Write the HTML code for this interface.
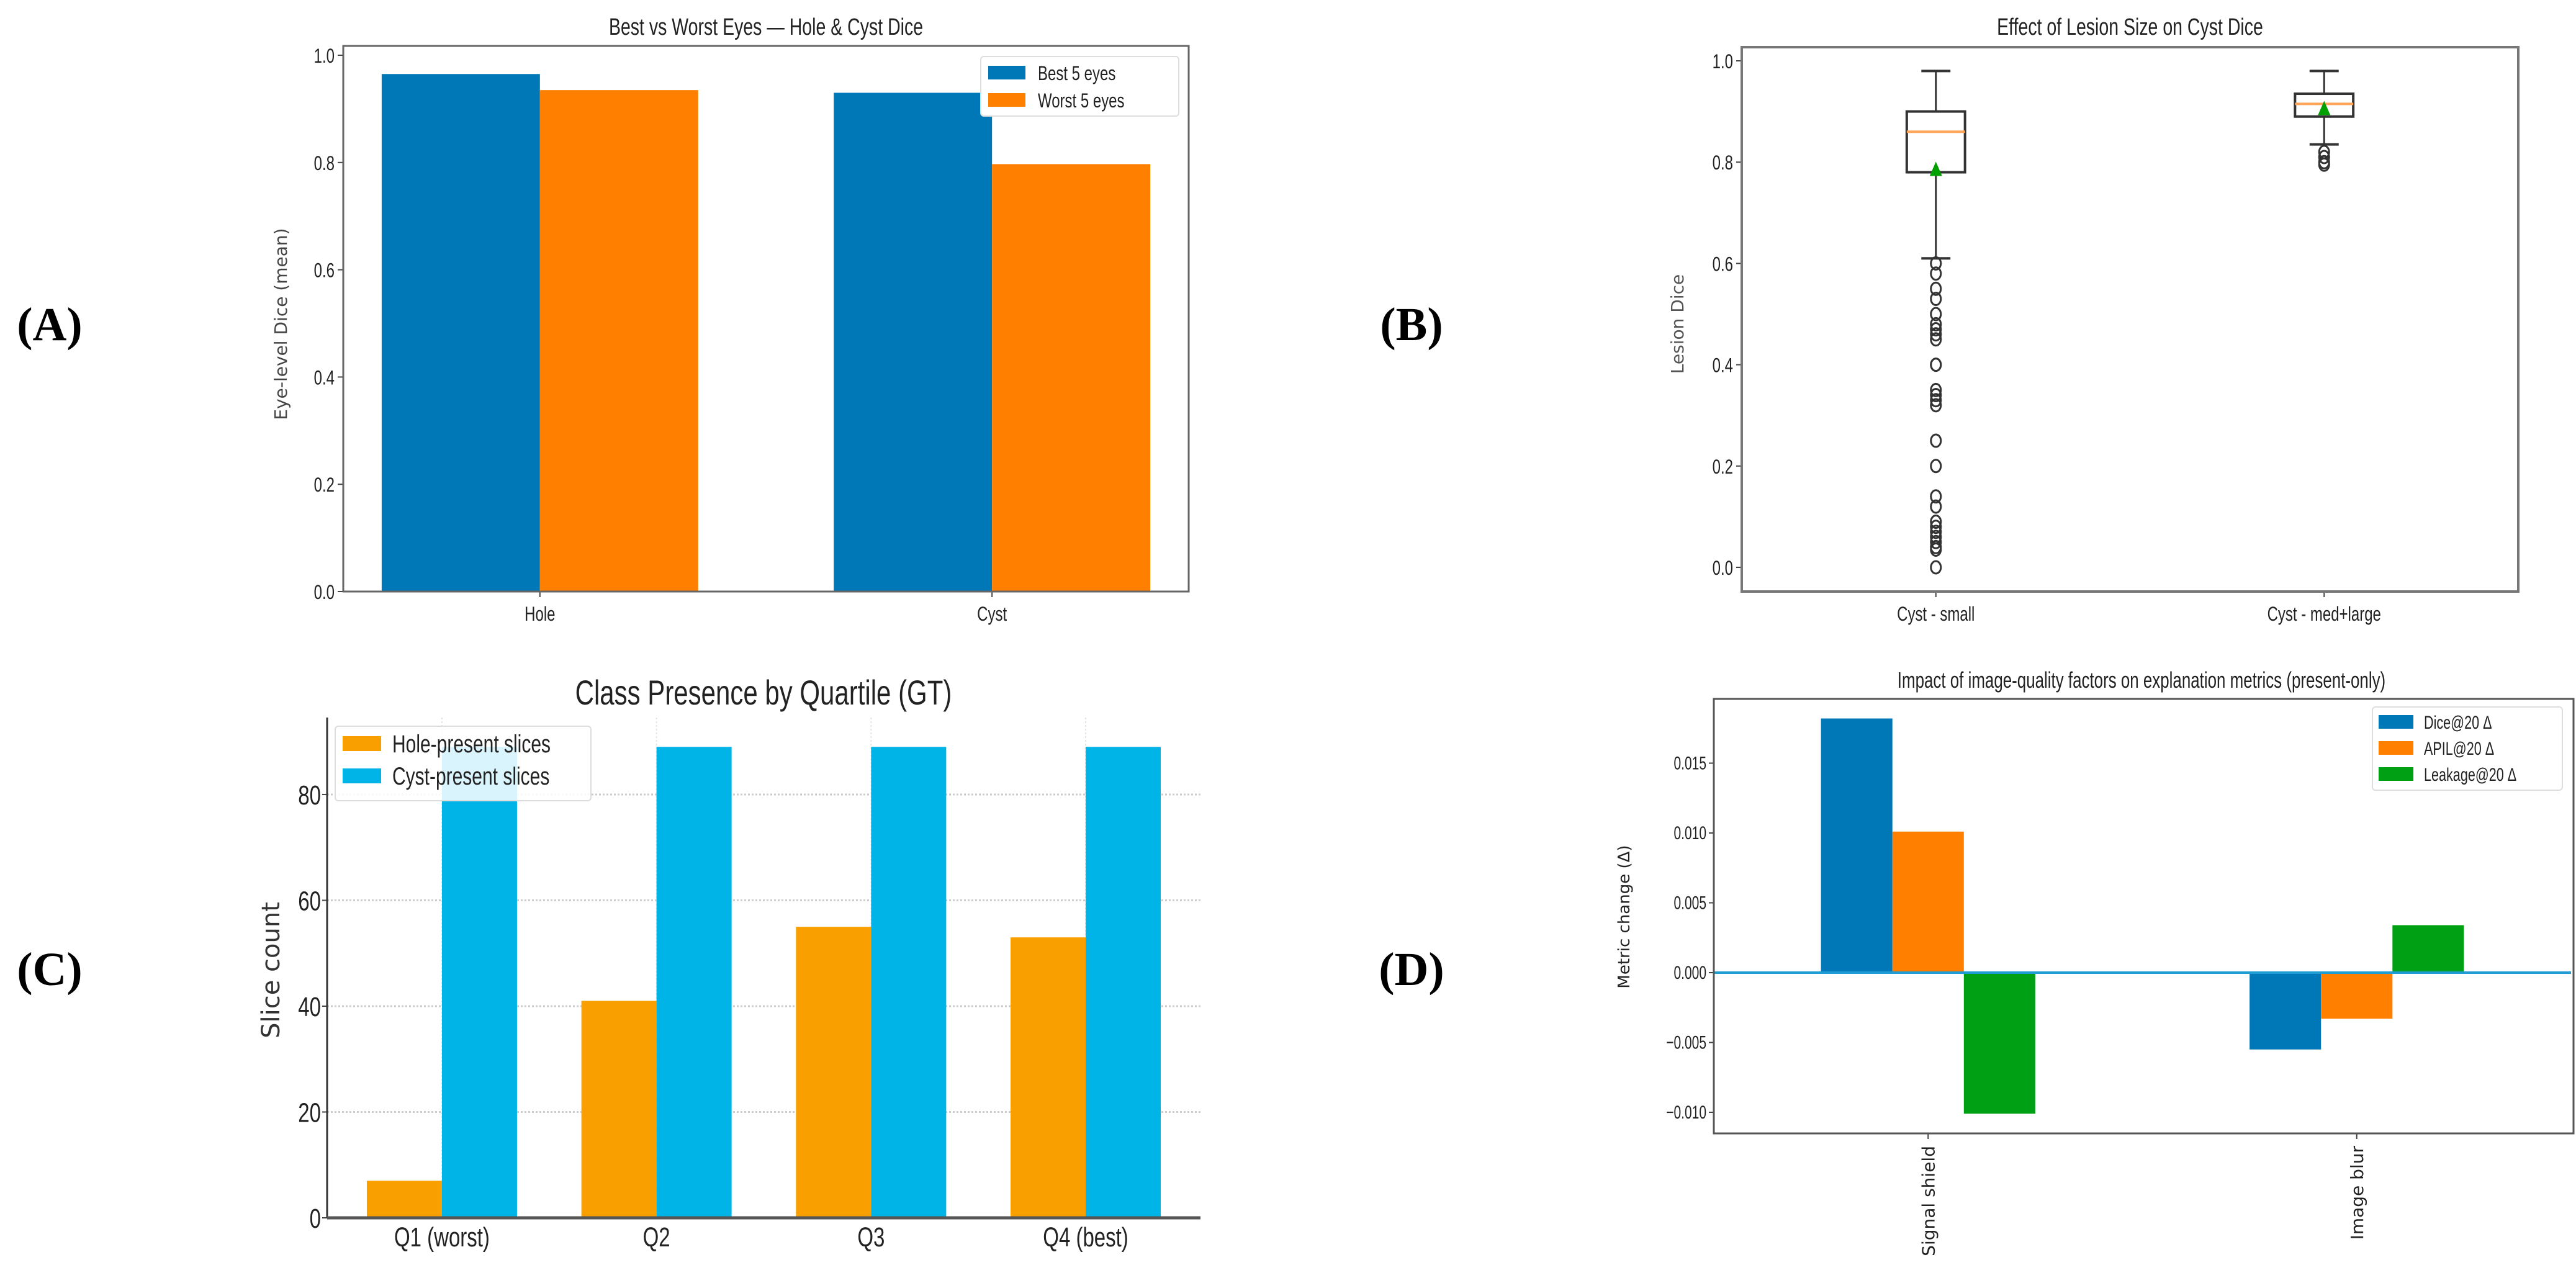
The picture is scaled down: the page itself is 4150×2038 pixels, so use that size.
<!DOCTYPE html>
<html><head><meta charset="utf-8">
<style>
html,body{margin:0;padding:0;background:#fff;}
svg{display:block;}
text{font-family:"Liberation Sans","DejaVu Sans",sans-serif;}
</style></head>
<body>
<svg id="fig" xmlns="http://www.w3.org/2000/svg" width="4150" height="2038" viewBox="0 0 4150 2038">
<rect width="4150" height="2038" fill="#fff"/>
<text x="80" y="548" font-size="76" font-family="Liberation Serif, serif" font-weight="bold" text-anchor="middle" style="font-family:'Liberation Serif',serif">(A)</text>
<text x="2274" y="548" font-size="76" font-weight="bold" text-anchor="middle" style="font-family:'Liberation Serif',serif">(B)</text>
<text x="80" y="1587" font-size="76" font-weight="bold" text-anchor="middle" style="font-family:'Liberation Serif',serif">(C)</text>
<text x="2274" y="1587" font-size="76" font-weight="bold" text-anchor="middle" style="font-family:'Liberation Serif',serif">(D)</text>
</svg>
<script>
// ---- Panel A data ----
const aCategories = ["Hole", "Cyst"];
const aBest = [0.965, 0.93];
const aWorst = [0.935, 0.797];
const aTicks = [0.0, 0.2, 0.4, 0.6, 0.8, 1.0];
// ---- Panel B data ----
const bCategories = ["Cyst - small", "Cyst - med+large"];
const bWhiskerHigh = [0.98, 0.98];
const bQ3 = [0.90, 0.935];
const bMedian = [0.86, 0.915];
const bQ1 = [0.78, 0.89];
const bWhiskerLow = [0.61, 0.835];
const bMean = [0.785, 0.905];
const bOutliersSmall = [0.60,0.58,0.55,0.53,0.50,0.48,0.47,0.46,0.45,0.40,0.40,0.35,0.34,0.33,0.32,0.25,0.20,0.14,0.12,0.09,0.08,0.07,0.06,0.05,0.04,0.035,0.0];
const bOutliersLarge = [0.82,0.81,0.80,0.795];
const bTicks = [0.0, 0.2, 0.4, 0.6, 0.8, 1.0];
// ---- Panel C data ----
const cCategories = ["Q1 (worst)", "Q2", "Q3", "Q4 (best)"];
const cHole = [7, 41, 55, 53];
const cCyst = [89, 89, 89, 89];
const cTicks = [0, 20, 40, 60, 80];
// ---- Panel D data ----
const dCategories = ["Signal shield", "Image blur"];
const dDice = [0.0182, -0.0055];
const dApil = [0.0101, -0.0033];
const dLeak = [-0.0101, 0.0034];
const dTicks = [-0.010, -0.005, 0.000, 0.005, 0.010, 0.015];
const dTickLabels = ["\u22120.010", "\u22120.005", "0.000", "0.005", "0.010", "0.015"];

const NS = "http://www.w3.org/2000/svg";
const svg = document.getElementById("fig");
function mk(tag, attrs, parent) {
  const e = document.createElementNS(NS, tag);
  for (const k in attrs) e.setAttribute(k, attrs[k]);
  (parent || svg).appendChild(e);
  return e;
}
function txt(x, y, s, size, anchor, opts) {
  opts = opts || {};
  const sx = opts.sx || 1;
  const rot = opts.rot || 0;
  const t = mk("text", {x: 0, y: 0, "font-size": size, "text-anchor": anchor || "middle",
    fill: opts.fill || "#222", transform: `translate(${x},${y}) rotate(${rot}) scale(${sx},1)`});
  if (opts.family) t.setAttribute("style", "font-family:" + opts.family);
  t.textContent = s;
  return t;
}
function lin(d0, d1, p0, p1) { return v => p0 + (v - d0) * (p1 - p0) / (d1 - d0); }

// ================= Panel A =================
(function(){
  const L = 553, R = 1915, T = 74, B = 953;
  const x = lin(-0.435, 1.435, L, R);
  const y = lin(0, 1.0, 953, 89);
  const w = 0.35;
  const g = mk("g", {});
  
  
  aCategories.forEach((c, i) => {
    const r1 = mk("rect", {x: x(i - w), y: y(aBest[i]), width: x(i) - x(i - w), height: y(0) - y(aBest[i]), fill: "#0077b6"}, g);
    
    
    const r2 = mk("rect", {x: x(i), y: y(aWorst[i]), width: x(i + w) - x(i), height: y(0) - y(aWorst[i]), fill: "#ff7f00"}, g);
    
    
    mk("line", {x1: x(i), x2: x(i), y1: B, y2: B + 9, stroke: "#444", "stroke-width": 2}, g);
    const t = txt(x(i), 1000, c, 32, "middle", {sx: 0.75});
    
    
  });
  aTicks.forEach(v => {
    mk("line", {x1: L - 9, x2: L, y1: y(v), y2: y(v), stroke: "#444", "stroke-width": 2}, g);
    const t = txt(L - 14, y(v) + 12, v.toFixed(1), 32, "end", {sx: 0.75});
    
    
  });
  mk("rect", {x: L, y: T, width: R - L, height: B - T, fill: "none", stroke: "#666", "stroke-width": 3}, g);
  const tt = txt((L + R) / 2, 56, "Best vs Worst Eyes \u2014 Hole & Cyst Dice", 38, "middle", {sx: 0.75});
  
  
  const yl = txt(462, 522, "Eye-level Dice (mean)", 28, "middle", {rot: -90, family: "'DejaVu Sans',sans-serif", fill: "#444"});
  
  
  const lg = mk("g", {}, g);
  
  
  mk("rect", {x: 1580, y: 91, width: 319, height: 96, fill: "#fff", stroke: "#ddd", "stroke-width": 2, rx: 5}, lg);
  mk("rect", {x: 1592, y: 106, width: 60, height: 22, fill: "#0077b6"}, lg);
  mk("rect", {x: 1592, y: 150, width: 60, height: 22, fill: "#ff7f00"}, lg);
  const l1 = txt(1672, 129, "Best 5 eyes", 32, "start", {sx: 0.75}, lg);
  
  
  const l2 = txt(1672, 173, "Worst 5 eyes", 32, "start", {sx: 0.75});
  
  
})();

// ================= Panel B =================
(function(){
  const L = 2806, R = 4057, T = 76, B = 953;
  const x = lin(0.5, 2.5, L, R);
  const y = lin(0, 1.0, 914, 98);
  const hw = 0.075;
  const g = mk("g", {});
  
  
  const outl = [bOutliersSmall, bOutliersLarge];
  bCategories.forEach((c, i) => {
    const p = i + 1;
    const bx = mk("g", {}, g);
    
    
    mk("line", {x1: x(p), x2: x(p), y1: y(bQ3[i]), y2: y(bWhiskerHigh[i]), stroke: "#333", "stroke-width": 3}, bx);
    mk("line", {x1: x(p), x2: x(p), y1: y(bQ1[i]), y2: y(bWhiskerLow[i]), stroke: "#333", "stroke-width": 3}, bx);
    mk("line", {x1: x(p - hw/2), x2: x(p + hw/2), y1: y(bWhiskerHigh[i]), y2: y(bWhiskerHigh[i]), stroke: "#333", "stroke-width": 4}, bx);
    mk("line", {x1: x(p - hw/2), x2: x(p + hw/2), y1: y(bWhiskerLow[i]), y2: y(bWhiskerLow[i]), stroke: "#333", "stroke-width": 4}, bx);
    mk("rect", {x: x(p - hw), y: y(bQ3[i]), width: x(p + hw) - x(p - hw), height: y(bQ1[i]) - y(bQ3[i]), fill: "none", stroke: "#333", "stroke-width": 4}, bx);
    mk("line", {x1: x(p - hw), x2: x(p + hw), y1: y(bMedian[i]), y2: y(bMedian[i]), stroke: "#ffa55a", "stroke-width": 4}, bx);
    outl[i].forEach(v => {
      const o = mk("ellipse", {cx: x(p), cy: y(v), rx: 8, ry: 10, fill: "none", stroke: "#333", "stroke-width": 3}, bx);
      
      
    });
    const my = y(bMean[i]);
    const m = mk("polygon", {points: `${x(p)},${my - 13} ${x(p) - 10},${my + 10} ${x(p) + 10},${my + 10}`, fill: "#00a000"}, bx);
    
    
    mk("line", {x1: x(p), x2: x(p), y1: B, y2: B + 9, stroke: "#444", "stroke-width": 2}, g);
    const t = txt(x(p), 1000, c, 32, "middle", {sx: 0.75});
    
    
  });
  bTicks.forEach(v => {
    mk("line", {x1: L - 9, x2: L, y1: y(v), y2: y(v), stroke: "#444", "stroke-width": 2}, g);
    const t = txt(L - 14, y(v) + 12, v.toFixed(1), 32, "end", {sx: 0.75});
    
    
  });
  mk("rect", {x: L, y: T, width: R - L, height: B - T, fill: "none", stroke: "#777", "stroke-width": 4}, g);
  const tt = txt((L + R) / 2, 56, "Effect of Lesion Size on Cyst Dice", 38, "middle", {sx: 0.75});
  
  
  const yl = txt(2712, 522, "Lesion Dice", 28, "middle", {rot: -90, family: "'DejaVu Sans',sans-serif", fill: "#555"});
  
  
})();

// ================= Panel C =================
(function(){
  const L = 527, R = 1934, T = 1156, B = 1962;
  const x = lin(-0.535, 3.535, L, R);
  const y = lin(0, 80, 1962, 1280);
  const w = 0.35;
  const g = mk("g", {});
  
  
  cTicks.forEach(v => {
    if (v > 0) mk("line", {x1: L, x2: R, y1: y(v), y2: y(v), stroke: "#ccc", "stroke-width": 3, "stroke-dasharray": "3,3"}, g);
  });
  cCategories.forEach((c, i) => {
    mk("line", {x1: x(i), x2: x(i), y1: T, y2: B, stroke: "#e4e4e4", "stroke-width": 2, "stroke-dasharray": "3,3"}, g);
  });
  cCategories.forEach((c, i) => {
    const r1 = mk("rect", {x: x(i - w), y: y(cHole[i]), width: x(i) - x(i - w), height: y(0) - y(cHole[i]), fill: "#f9a000"}, g);
    
    
    const r2 = mk("rect", {x: x(i), y: y(cCyst[i]), width: x(i + w) - x(i), height: y(0) - y(cCyst[i]), fill: "#00b4e8"}, g);
    
    
    const t = txt(x(i), 2008, c, 44, "middle", {sx: 0.75});
    
    
  });
  cTicks.forEach(v => {
    mk("line", {x1: L - 8, x2: L, y1: y(v), y2: y(v), stroke: "#444", "stroke-width": 2}, g);
    const t = txt(L - 10, y(v) + 16, String(v), 44, "end", {sx: 0.75});
    
    
  });
  mk("line", {x1: L, x2: L, y1: T, y2: B, stroke: "#333", "stroke-width": 3}, g);
  mk("line", {x1: L, x2: R, y1: B, y2: B, stroke: "#555", "stroke-width": 5}, g);
  const tt = txt(1230, 1135, "Class Presence by Quartile (GT)", 56, "middle", {sx: 0.75});
  
  
  const yl = txt(450, 1563, "Slice count", 40, "middle", {rot: -90, family: "'DejaVu Sans',sans-serif", fill: "#333"});
  
  
  const lg = mk("g", {}, g);
  
  
  mk("rect", {x: 540, y: 1170, width: 412, height: 120, fill: "rgba(255,255,255,0.85)", stroke: "#ddd", "stroke-width": 2, rx: 5}, lg);
  mk("rect", {x: 552, y: 1186, width: 62, height: 24, fill: "#f9a000"}, lg);
  mk("rect", {x: 552, y: 1238, width: 62, height: 24, fill: "#00b4e8"}, lg);
  const l1 = txt(632, 1212, "Hole-present slices", 40, "start", {sx: 0.75});
  
  
  const l2 = txt(632, 1264, "Cyst-present slices", 40, "start", {sx: 0.75});
  
  
})();

// ================= Panel D =================
(function(){
  const L = 2761, R = 4142, T = 1126, B = 1826;
  const x = lin(-0.5, 1.5, L, R);
  const y = lin(0, 0.015, 1567, 1229.5);
  const w = 0.5 / 3;
  const g = mk("g", {});
  
  
  const series = [dDice, dApil, dLeak];
  const cols = ["#0077b6", "#ff7f00", "#00a014"];
  const sn = ["dice", "apil", "leakage"];
  dCategories.forEach((c, i) => {
    series.forEach((s, k) => {
      const cx = i + (k - 1) * w;
      const v = s[i];
      const r = mk("rect", {x: x(cx - w / 2), y: Math.min(y(v), y(0)), width: x(cx + w / 2) - x(cx - w / 2), height: Math.abs(y(v) - y(0)), fill: cols[k]}, g);
      
      
    });
    mk("line", {x1: x(i), x2: x(i), y1: B, y2: B + 9, stroke: "#444", "stroke-width": 2}, g);
    const t = txt(x(i) + 10, 1846, c, 28, "end", {rot: -90, family: "'DejaVu Sans',sans-serif"});
    
    
  });
  const zl = mk("line", {x1: L, x2: R, y1: y(0), y2: y(0), stroke: "#1f9bd6", "stroke-width": 4}, g);
  
  
  dTicks.forEach((v, j) => {
    mk("line", {x1: L - 8, x2: L, y1: y(v), y2: y(v), stroke: "#444", "stroke-width": 2}, g);
    const t = txt(L - 12, y(v) + 10, dTickLabels[j], 30, "end", {sx: 0.7});
    
    
  });
  mk("rect", {x: L, y: T, width: R - L + 4, height: B - T, fill: "none", stroke: "#555", "stroke-width": 3}, g);
  const tt = txt(3450, 1108, "Impact of image-quality factors on explanation metrics (present-only)", 36, "middle", {sx: 0.72});
  
  
  const yl = txt(2625, 1477, "Metric change (\u0394)", 26, "middle", {rot: -90, family: "'DejaVu Sans',sans-serif"});
  
  
  const lg = mk("g", {}, g);
  
  
  mk("rect", {x: 3822, y: 1139, width: 306, height: 134, fill: "#fff", stroke: "#ddd", "stroke-width": 2, rx: 5}, lg);
  const labs = ["Dice@20 \u0394", "APIL@20 \u0394", "Leakage@20 \u0394"];
  labs.forEach((s, k) => {
    mk("rect", {x: 3832, y: 1152 + k * 42, width: 56, height: 22, fill: cols[k]}, lg);
    const t = txt(3905, 1174 + k * 42, s, 30, "start", {sx: 0.72});
    
    
  });
})();
</script>
</body></html>
